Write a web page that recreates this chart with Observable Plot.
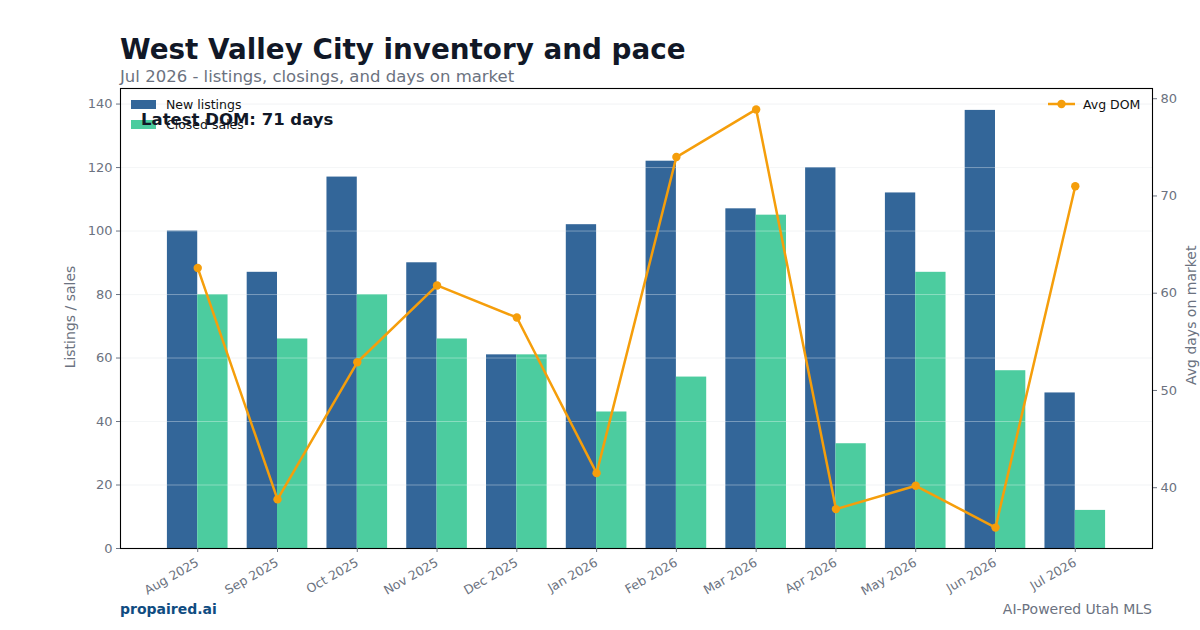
<!DOCTYPE html>
<html>
<head>
<meta charset="utf-8">
<script src="https://cdn.jsdelivr.net/npm/d3@7"></script>
<script src="https://cdn.jsdelivr.net/npm/@observablehq/plot@0.6"></script>
<style>
  html, body { margin: 0; padding: 0; background: #fff; }
  body { width: 1200px; height: 630px; position: relative; overflow: hidden; font-family: "DejaVu Sans", sans-serif; }
  .abs { position: absolute; white-space: nowrap; }
  #title { left: 120px; top: 33px; font-size: 27.8px; font-weight: bold; color: #111827; }
  #subtitle { left: 120px; top: 67px; font-size: 16.5px; color: #6b7280; }
  #chart { position: absolute; left: 0; top: 0; }
  .leg { font-size: 12.5px; color: #111; }
  .sw { position: absolute; width: 25px; height: 9px; }
  #latest { left: 141px; top: 110px; font-size: 16.5px; font-weight: bold; color: #111827; }
  #brand { left: 120px; top: 601px; font-size: 14px; font-weight: bold; color: #0f4c81; }
  #credit { right: 48px; top: 601px; font-size: 14px; color: #6b7280; }
  .ylab { font-size: 14px; color: #6b7280; transform-origin: center; }
</style>
</head>
<body>
<div id="chart"></div>
<div id="title" class="abs">West Valley City inventory and pace</div>
<div id="subtitle" class="abs">Jul 2026 - listings, closings, and days on market</div>

<div class="sw" style="left:131px;top:100px;background:#336699"></div>
<div class="abs leg" style="left:166px;top:97px;">New listings</div>
<div class="sw" style="left:131px;top:120px;background:#4ccc9f"></div>
<div class="abs leg" style="left:166px;top:117px;">Closed sales</div>
<div id="latest" class="abs">Latest DOM: 71 days</div>

<svg class="abs" style="left:1047px;top:98px" width="30" height="12"><line x1="1" y1="6" x2="28" y2="6" stroke="#f59e0b" stroke-width="2.5"/><circle cx="14.5" cy="6" r="4.2" fill="#f59e0b"/></svg>
<div class="abs leg" style="left:1083px;top:97px;">Avg DOM</div>

<div class="abs ylab" style="left:14px;top:309px;width:112px;text-align:center;transform:rotate(-90deg);">Listings / sales</div>
<div class="abs ylab" style="left:1123px;top:309px;width:136px;text-align:center;transform:rotate(-90deg);">Avg days on market</div>

<div id="brand" class="abs">propaired.ai</div>
<div id="credit" class="abs">AI-Powered Utah MLS</div>

<script>
const months = ["Aug 2025","Sep 2025","Oct 2025","Nov 2025","Dec 2025","Jan 2026","Feb 2026","Mar 2026","Apr 2026","May 2026","Jun 2026","Jul 2026"];
const newListings = [100, 87, 117, 90, 61, 102, 122, 107, 120, 112, 138, 49];
const closedSales = [80, 66, 80, 66, 61, 43, 54, 105, 33, 87, 56, 12];
const avgDom = [62.6, 38.8, 52.9, 60.8, 57.5, 41.5, 74.0, 78.9, 37.8, 40.2, 35.9, 71.0];
const leftTicks = [0, 20, 40, 60, 80, 100, 120, 140];
const rightTicks = [40, 50, 60, 70, 80];

const barW = 0.38;
const n = months.length;
const xPad = (n - 1 + 2 * barW) * 0.05;
const xDomain = [-barW - xPad, n - 1 + barW + xPad];

const yMax = d3.max(newListings.concat(closedSales)) * 1.05;
const domMin = d3.min(avgDom), domMax = d3.max(avgDom);
const domPad = (domMax - domMin) * 0.05;
const rLo = domMin - domPad, rHi = domMax + domPad;
const toLeft = v => (v - rLo) / (rHi - rLo) * yMax;
const fromLeft = v => v / yMax * (rHi - rLo) + rLo;

const rows = months.map((m, i) => ({i, m, nl: newListings[i], cs: closedSales[i], dom: avgDom[i], domY: toLeft(avgDom[i])}));

const gray = "#6b7280";
const plot = Plot.plot({
  width: 1200,
  height: 630,
  marginTop: 88,
  marginBottom: 82,
  marginLeft: 120,
  marginRight: 48,
  style: {fontFamily: "DejaVu Sans, sans-serif", fontSize: "13px", color: gray, background: "transparent"},
  x: {type: "linear", domain: xDomain},
  y: {domain: [0, yMax]},
  marks: [
    Plot.gridY(leftTicks, {stroke: "#e5e7eb", strokeOpacity: 0.6}),
    Plot.rect(rows, {x1: d => d.i - barW, x2: d => d.i, y1: 0, y2: "nl", fill: "#336699", insetLeft: 0, insetRight: 0}),
    Plot.rect(rows, {x1: d => d.i, x2: d => d.i + barW, y1: 0, y2: "cs", fill: "#4ccc9f", insetLeft: 0, insetRight: 0}),
    Plot.gridY(leftTicks, {stroke: "#ffffff", strokeOpacity: 0.35}),
    Plot.line(rows, {x: "i", y: "domY", stroke: "#f59e0b", strokeWidth: 2.5}),
    Plot.dot(rows, {x: "i", y: "domY", r: 4.2, fill: "#f59e0b"}),
    Plot.frame({stroke: "#000", strokeWidth: 1.1}),
    Plot.axisY(leftTicks, {anchor: "left", tickSize: 4, tickPadding: 4, label: null, stroke: gray, fill: gray, fontSize: 13}),
    Plot.axisY(rightTicks.map(toLeft), {anchor: "right", tickSize: 4, tickPadding: 4, label: null, tickFormat: v => Math.round(fromLeft(v)), stroke: gray, fill: gray, fontSize: 13}),
    Plot.axisX(d3.range(n), {anchor: "bottom", tickSize: 4, tickPadding: 9, tickRotate: -30, label: null, tickFormat: i => months[i], stroke: gray, fill: gray, fontSize: 12.5})
  ]
});
document.getElementById("chart").appendChild(plot);
</script>
</body>
</html>
